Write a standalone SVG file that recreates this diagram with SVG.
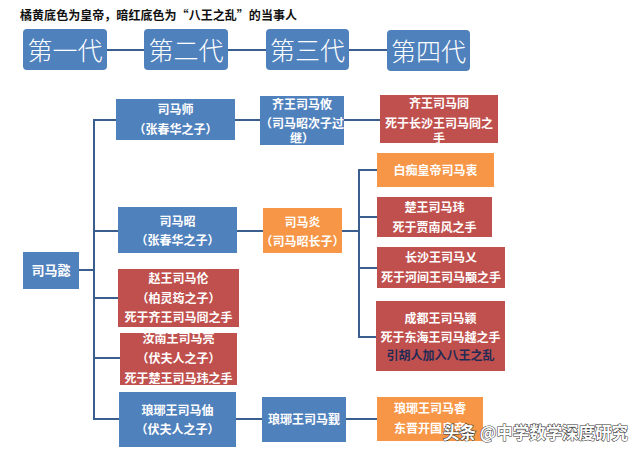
<svg xmlns="http://www.w3.org/2000/svg" width="640" height="455" viewBox="0 0 640 455">
<style>
text{font-family:"Noto Sans CJK SC","Noto Sans",sans-serif;}
.gen rect{fill:#4f81bd;}
.gen text{fill:#fff;font-size:25px;font-weight:300;text-anchor:middle;}
.b{fill:#4f81bd;}
.r{fill:#c0504d;}
.o{fill:#f79646;}
.t{fill:#fff;font-size:12px;font-weight:bold;text-anchor:middle;}
.dk{fill:#1f2a55;}
#connectors line{stroke:#3a5f8e;stroke-width:2;fill:none;}
.title{font-size:12px;font-weight:bold;fill:#111;}
.wm{font-size:17px;fill:#fff;stroke:#333;stroke-width:1.1;paint-order:stroke;font-weight:bold;}
</style>
<rect width="640" height="455" fill="#fff"/>
<text class="title" x="20" y="19.5" textLength="277">橘黄底色为皇帝，暗红底色为“八王之乱”的当事人</text>
<g id="connectors">
<line x1="107" y1="50" x2="144" y2="50"/>
<line x1="228" y1="50" x2="266" y2="50"/>
<line x1="349" y1="50" x2="387" y2="50"/>
<line x1="79" y1="270" x2="94" y2="270"/>
<line x1="94" y1="119" x2="94" y2="420"/>
<line x1="94" y1="120" x2="116" y2="120"/>
<line x1="94" y1="231" x2="118" y2="231"/>
<line x1="94" y1="298" x2="118" y2="298"/>
<line x1="94" y1="358" x2="120" y2="358"/>
<line x1="94" y1="419" x2="119" y2="419"/>
<line x1="235" y1="120" x2="260" y2="120"/>
<line x1="344" y1="120" x2="380" y2="120"/>
<line x1="237" y1="231" x2="263" y2="231"/>
<line x1="342" y1="231" x2="359" y2="231"/>
<line x1="359" y1="169" x2="359" y2="338"/>
<line x1="359" y1="170" x2="377" y2="170"/>
<line x1="359" y1="217" x2="377" y2="217"/>
<line x1="359" y1="268" x2="377" y2="268"/>
<line x1="359" y1="337" x2="376" y2="337"/>
<line x1="236" y1="419" x2="262" y2="419"/>
<line x1="346" y1="419" x2="377" y2="419"/>
</g>
<g id="gen1" class="gen"><rect x="23" y="29" width="84" height="41" rx="4"/><text x="65" y="60">第一代</text></g>
<g id="gen2" class="gen"><rect x="144" y="29" width="84" height="41" rx="4"/><text x="186" y="60">第二代</text></g>
<g id="gen3" class="gen"><rect x="266" y="29" width="83" height="41" rx="4"/><text x="307.5" y="60">第三代</text></g>
<g id="gen4" class="gen"><rect x="387" y="30" width="83" height="41" rx="4"/><text x="428.5" y="61">第四代</text></g>

<g id="simayi"><rect class="b" x="23" y="252" width="56" height="37"/><text class="t" x="51" y="275" style="font-size:13px">司马懿</text></g>

<g id="simashi"><rect class="b" x="116" y="99" width="119" height="41"/><text class="t" x="175.5" y="114">司马师</text><text class="t" x="175.5" y="134">（张春华之子）</text></g>
<g id="simazhao"><rect class="b" x="118" y="207" width="119" height="46"/><text class="t" x="177.5" y="226">司马昭</text><text class="t" x="177.5" y="245">（张春华之子）</text></g>
<g id="simalun"><rect class="r" x="118" y="269" width="121" height="58"/><text class="t" x="178.5" y="283">赵王司马伦</text><text class="t" x="178.5" y="303">（柏灵筠之子）</text><text class="t" x="178.5" y="322">死于齐王司马冏之手</text></g>
<g id="simaliang"><rect class="r" x="120" y="333" width="117" height="52"/><text class="t" x="178.5" y="343">汝南王司马亮</text><text class="t" x="178.5" y="363">（伏夫人之子）</text><text class="t" x="178.5" y="383">死于楚王司马玮之手</text></g>
<g id="simazhou"><rect class="b" x="119" y="392" width="117" height="55"/><text class="t" x="177.5" y="415">琅琊王司马伷</text><text class="t" x="177.5" y="434">（伏夫人之子）</text></g>

<g id="simayou"><rect class="b" x="260" y="96" width="84" height="49"/><text class="t" x="302" y="109">齐王司马攸</text><text class="t" x="302" y="127.5">（司马昭次子过</text><text class="t" x="302" y="142.5">继）</text></g>
<g id="simayan"><rect class="o" x="263" y="208" width="79" height="45"/><text class="t" x="302.5" y="227">司马炎</text><text class="t" x="302.5" y="246">（司马昭长子）</text></g>
<g id="simajin"><rect class="b" x="262" y="397" width="84" height="45"/><text class="t" x="304" y="424">琅琊王司马觐</text></g>

<g id="simajiong"><rect class="r" x="380" y="95" width="118" height="48"/><text class="t" x="439" y="108">齐王司马冏</text><text class="t" x="439" y="127.5">死于长沙王司马冏之</text><text class="t" x="439" y="142.5">手</text></g>
<g id="simazhong"><rect class="o" x="377" y="153" width="117" height="34"/><text class="t" x="435.5" y="175">白痴皇帝司马衷</text></g>
<g id="simawei"><rect class="r" x="377" y="197" width="115" height="40"/><text class="t" x="434.5" y="212">楚王司马玮</text><text class="t" x="434.5" y="232">死于贾南风之手</text></g>
<g id="simaai"><rect class="r" x="377" y="247" width="128" height="41"/><text class="t" x="441" y="262">长沙王司马乂</text><text class="t" x="441" y="282">死于河间王司马颙之手</text></g>
<g id="simaying"><rect class="r" x="376" y="301" width="129" height="70"/><text class="t" x="440.5" y="323">成都王司马颖</text><text class="t" x="440.5" y="342">死于东海王司马越之手</text><text class="t dk" x="440.5" y="360">引胡人加入八王之乱</text></g>
<g id="simarui"><rect class="o" x="377" y="397" width="106" height="44"/><text class="t" x="430" y="413">琅琊王司马睿</text><text class="t" x="430" y="433">东晋开国皇帝</text></g>

<text class="wm" x="443" y="439" textLength="185" lengthAdjust="spacingAndGlyphs">头条 @中学数学深度研究</text>
</svg>
